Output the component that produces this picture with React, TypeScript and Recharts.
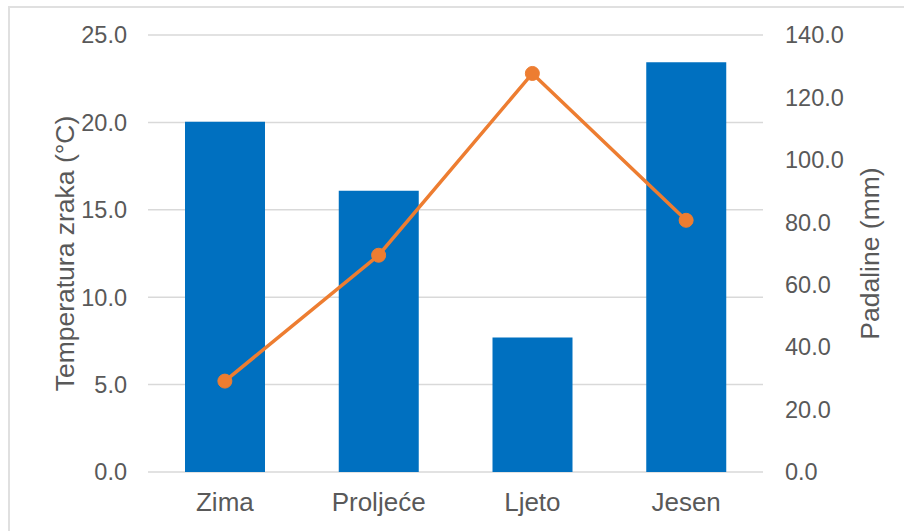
import React from "react";
import {
  ComposedChart,
  Bar,
  Line,
  XAxis,
  YAxis,
  CartesianGrid,
  Label,
} from "recharts";

const seasons = ["Zima", "Proljeće", "Ljeto", "Jesen"];
const precipitation = [112.2, 90.1, 43.1, 131.3];
const temperature = [5.2, 12.4, 22.8, 14.4];
const tempTicks = [0, 5, 10, 15, 20, 25];
const precTicks = [0, 20, 40, 60, 80, 100, 120, 140];

const data = seasons.map((s, i) => ({
  season: s,
  padaline: precipitation[i],
  temp: temperature[i],
}));

const FONT = "'Liberation Sans', Arial, sans-serif";
const GREY = "#595959";

export default function App() {
  return (
    <div
      style={{
        position: "absolute",
        left: 0,
        top: 0,
        width: 904,
        height: 531,
        overflow: "hidden",
        background: "#fff",
        fontFamily: FONT,
      }}
    >
      <div
        style={{
          position: "absolute",
          left: 8,
          top: 6,
          width: 920,
          height: 540,
          border: "2px solid #e0e0e0",
        }}
      />
      <div style={{ position: "absolute", left: 0, top: 0 }}>
        <ComposedChart
          width={904}
          height={531}
          data={data}
          margin={{ top: 35, right: 0, bottom: 0, left: 0 }}
        >
          <CartesianGrid
            yAxisId="left"
            vertical={false}
            stroke="#d9d9d9"
            strokeWidth={1.5}
          />
          <XAxis
            dataKey="season"
            axisLine={false}
            tickLine={false}
            tickSize={0}
            tickMargin={21}
            height={59}
            tick={{ fill: GREY, fontSize: 26, fontFamily: FONT }}
            interval={0}
          />
          <YAxis
            yAxisId="left"
            orientation="left"
            width={148}
            domain={[0, 25]}
            ticks={tempTicks}
            tickFormatter={(v: number) => v.toFixed(1)}
            axisLine={false}
            tickLine={false}
            tickSize={0}
            tickMargin={21}
            tick={{ fill: GREY, fontSize: 23.5, fontFamily: FONT }}
          >
            <Label
              value="Temperatura zraka (°C)"
              angle={-90}
              position="center"
              dx={-9}
              style={{ fill: GREY, fontSize: 26.5, fontFamily: FONT, textAnchor: "middle" }}
            />
          </YAxis>
          <YAxis
            yAxisId="right"
            orientation="right"
            width={141}
            domain={[0, 140]}
            ticks={precTicks}
            tickFormatter={(v: number) => v.toFixed(1)}
            axisLine={false}
            tickLine={false}
            tickSize={0}
            tickMargin={22}
            tick={{ fill: GREY, fontSize: 23.5, fontFamily: FONT }}
          >
            <Label
              value="Padaline (mm)"
              angle={-90}
              position="center"
              dx={36}
              style={{ fill: GREY, fontSize: 26.5, fontFamily: FONT, textAnchor: "middle" }}
            />
          </YAxis>
          <Bar
            yAxisId="right"
            dataKey="padaline"
            fill="#0070C0"
            barSize={80}
            isAnimationActive={false}
          />
          <Line
            yAxisId="left"
            dataKey="temp"
            stroke="#ED7D31"
            strokeWidth={3.5}
            dot={{ r: 7, fill: "#ED7D31", stroke: "#ED7D31", strokeWidth: 1 }}
            isAnimationActive={false}
          />
        </ComposedChart>
      </div>
    </div>
  );
}
